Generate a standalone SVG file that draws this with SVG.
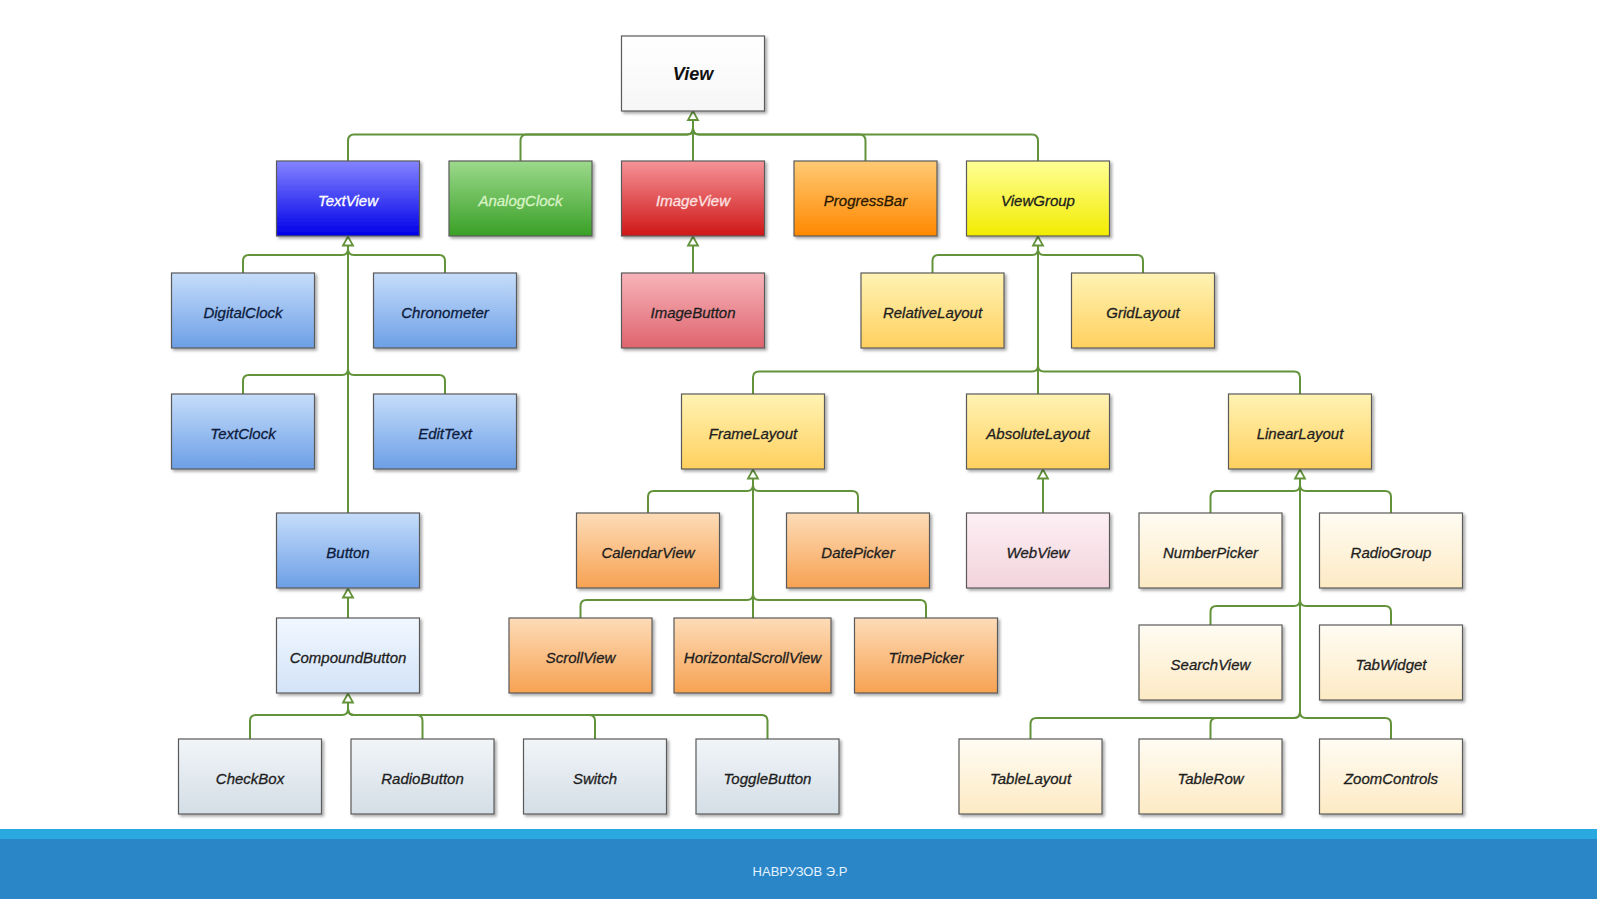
<svg xmlns="http://www.w3.org/2000/svg" width="1600" height="899" viewBox="0 0 1600 899">
<defs>
<style>
.box{stroke:#5a5a5a;stroke-width:1.2;filter:url(#sh)}
.lbl{font-family:"Liberation Sans",Arial,sans-serif;font-style:italic;font-size:15px;text-anchor:middle;fill:#1e1e1e;stroke:#1e1e1e;stroke-width:0.3}
.dk{fill:#0d1b3d;stroke:#0d1b3d}
.wt{fill:#ffffff;stroke:#ffffff}
.con{fill:none;stroke:#62933a;stroke-width:2}
.arr{fill:#ffffff;stroke:#62933a;stroke-width:1.8;stroke-linejoin:miter}
.foot{font-family:"Liberation Sans",Arial,sans-serif;font-size:13px;text-anchor:middle;fill:#e4f3ff}
</style>
<filter id="sh" x="-10%" y="-10%" width="125%" height="130%">
<feDropShadow dx="2" dy="2" stdDeviation="1.5" flood-color="#000" flood-opacity="0.35"/>
</filter>
<linearGradient id="g-view" x1="0" y1="0" x2="0" y2="1"><stop offset="0" stop-color="#ffffff"/><stop offset="1" stop-color="#f6f6f6"/></linearGradient>
<linearGradient id="g-tv" x1="0" y1="0" x2="0" y2="1"><stop offset="0" stop-color="#8484ff"/><stop offset="1" stop-color="#0000e8"/></linearGradient>
<linearGradient id="g-ac" x1="0" y1="0" x2="0" y2="1"><stop offset="0" stop-color="#9cd98c"/><stop offset="1" stop-color="#39a026"/></linearGradient>
<linearGradient id="g-iv" x1="0" y1="0" x2="0" y2="1"><stop offset="0" stop-color="#f59498"/><stop offset="1" stop-color="#cf1616"/></linearGradient>
<linearGradient id="g-pb" x1="0" y1="0" x2="0" y2="1"><stop offset="0" stop-color="#ffca74"/><stop offset="1" stop-color="#ff8800"/></linearGradient>
<linearGradient id="g-vg" x1="0" y1="0" x2="0" y2="1"><stop offset="0" stop-color="#ffff96"/><stop offset="1" stop-color="#f2ec00"/></linearGradient>
<linearGradient id="g-lb" x1="0" y1="0" x2="0" y2="1"><stop offset="0" stop-color="#c6ddfa"/><stop offset="1" stop-color="#6c9fe6"/></linearGradient>
<linearGradient id="g-ib" x1="0" y1="0" x2="0" y2="1"><stop offset="0" stop-color="#f7b4ba"/><stop offset="1" stop-color="#df646e"/></linearGradient>
<linearGradient id="g-ly" x1="0" y1="0" x2="0" y2="1"><stop offset="0" stop-color="#fff3b4"/><stop offset="1" stop-color="#ffd05e"/></linearGradient>
<linearGradient id="g-or" x1="0" y1="0" x2="0" y2="1"><stop offset="0" stop-color="#fddcb8"/><stop offset="1" stop-color="#f7a252"/></linearGradient>
<linearGradient id="g-wv" x1="0" y1="0" x2="0" y2="1"><stop offset="0" stop-color="#fcf0f4"/><stop offset="1" stop-color="#f3d3dc"/></linearGradient>
<linearGradient id="g-cr" x1="0" y1="0" x2="0" y2="1"><stop offset="0" stop-color="#fffcf3"/><stop offset="1" stop-color="#fdeac4"/></linearGradient>
<linearGradient id="g-cb" x1="0" y1="0" x2="0" y2="1"><stop offset="0" stop-color="#f1f7fe"/><stop offset="1" stop-color="#d3e3f8"/></linearGradient>
<linearGradient id="g-gr" x1="0" y1="0" x2="0" y2="1"><stop offset="0" stop-color="#f1f5f8"/><stop offset="1" stop-color="#d4dee6"/></linearGradient>
<path id="arrow" d="M0,0 L-5,9 L5,9 Z"/>
</defs>

<rect x="0" y="0" width="1600" height="899" fill="#ffffff"/>

<g id="connectors">
<path class="con" d="M693,120 V161"/>
<path class="con" d="M693,128 Q693,134.5 687,134.5 H354 Q348,134.5 348,141 V161"/>
<path class="con" d="M693,128 Q693,134.5 687,134.5 H526.5 Q520.5,134.5 520.5,141 V161"/>
<path class="con" d="M693,128 Q693,134.5 699,134.5 H1032 Q1038,134.5 1038,141 V161"/>
<path class="con" d="M693,128 Q693,134.5 699,134.5 H859.5 Q865.5,134.5 865.5,141 V161"/>
<use href="#arrow" class="arr" x="693" y="111"/>
<path class="con" d="M348,245 V513"/>
<path class="con" d="M348,249 Q348,255 342,255 H249 Q243,255 243,261 V273"/>
<path class="con" d="M348,249 Q348,255 354,255 H439 Q445,255 445,261 V273"/>
<path class="con" d="M348,369 Q348,375 342,375 H249 Q243,375 243,381 V394"/>
<path class="con" d="M348,369 Q348,375 354,375 H439 Q445,375 445,381 V394"/>
<use href="#arrow" class="arr" x="348" y="236.5"/>
<path class="con" d="M693,245 V273"/>
<use href="#arrow" class="arr" x="693" y="236.5"/>
<path class="con" d="M1038,245 V394"/>
<path class="con" d="M1038,249 Q1038,255 1032,255 H938.5 Q932.5,255 932.5,261 V273"/>
<path class="con" d="M1038,249 Q1038,255 1044,255 H1137 Q1143,255 1143,261 V273"/>
<path class="con" d="M1038,365.5 Q1038,371.5 1032,371.5 H759 Q753,371.5 753,377.5 V394"/>
<path class="con" d="M1038,365.5 Q1038,371.5 1044,371.5 H1294 Q1300,371.5 1300,377.5 V394"/>
<use href="#arrow" class="arr" x="1038" y="236.5"/>
<path class="con" d="M753,478 V618"/>
<path class="con" d="M753,485 Q753,491 747,491 H654 Q648,491 648,497 V513"/>
<path class="con" d="M753,485 Q753,491 759,491 H852 Q858,491 858,497 V513"/>
<path class="con" d="M753,594 Q753,600 747,600 H586.5 Q580.5,600 580.5,606 V618"/>
<path class="con" d="M753,594 Q753,600 759,600 H920 Q926,600 926,606 V618"/>
<use href="#arrow" class="arr" x="753" y="469.5"/>
<path class="con" d="M1043,478 V513"/>
<use href="#arrow" class="arr" x="1043" y="469.5"/>
<path class="con" d="M1300,478 V712"/>
<path class="con" d="M1300,485 Q1300,491 1294,491 H1216.5 Q1210.5,491 1210.5,497 V513"/>
<path class="con" d="M1300,485 Q1300,491 1306,491 H1385 Q1391,491 1391,497 V513"/>
<path class="con" d="M1300,600 Q1300,606 1294,606 H1216.5 Q1210.5,606 1210.5,612 V625"/>
<path class="con" d="M1300,600 Q1300,606 1306,606 H1385 Q1391,606 1391,612 V625"/>
<path class="con" d="M1300,712 Q1300,718 1294,718 H1036.5 Q1030.5,718 1030.5,724 V739"/>
<path class="con" d="M1300,712 Q1300,718 1294,718 H1216.5 Q1210.5,718 1210.5,724 V739"/>
<path class="con" d="M1300,712 Q1300,718 1306,718 H1385 Q1391,718 1391,724 V739"/>
<use href="#arrow" class="arr" x="1300" y="469.5"/>
<path class="con" d="M348,597 V618"/>
<use href="#arrow" class="arr" x="348" y="588.5"/>
<path class="con" d="M348,702 V709"/>
<path class="con" d="M348,709 Q348,715 342,715 H256 Q250,715 250,721 V739"/>
<path class="con" d="M348,709 Q348,715 354,715 H416.5 Q422.5,715 422.5,721 V739"/>
<path class="con" d="M348,709 Q348,715 354,715 H589 Q595,715 595,721 V739"/>
<path class="con" d="M348,709 Q348,715 354,715 H761.5 Q767.5,715 767.5,721 V739"/>
<use href="#arrow" class="arr" x="348" y="693.5"/>
</g>

<g id="n-View"><rect class="box" x="621.5" y="36" width="143" height="75" fill="url(#g-view)"/><text x="693" y="79.5" font-family="Liberation Sans, Arial, sans-serif" font-style="italic" font-weight="bold" font-size="18" text-anchor="middle" fill="#111">View</text></g>

<g id="n-TextView"><rect class="box" x="276.5" y="161" width="143" height="75" fill="url(#g-tv)"/><text class="lbl wt" x="348" y="205.5">TextView</text></g>
<g id="n-AnalogClock"><rect class="box" x="449" y="161" width="143" height="75" fill="url(#g-ac)"/><text class="lbl" x="520.5" y="205.5" style="fill:#d8f3c6;stroke:#d8f3c6">AnalogClock</text></g>
<g id="n-ImageView"><rect class="box" x="621.5" y="161" width="143" height="75" fill="url(#g-iv)"/><text class="lbl" x="693" y="205.5" style="fill:#fde2e2;stroke:#fde2e2">ImageView</text></g>
<g id="n-ProgressBar"><rect class="box" x="794" y="161" width="143" height="75" fill="url(#g-pb)"/><text class="lbl" x="865.5" y="205.5" style="fill:#2a1800;stroke:#2a1800">ProgressBar</text></g>
<g id="n-ViewGroup"><rect class="box" x="966.5" y="161" width="143" height="75" fill="url(#g-vg)"/><text class="lbl" x="1038" y="205.5">ViewGroup</text></g>

<g id="n-DigitalClock"><rect class="box" x="171.5" y="273" width="143" height="75" fill="url(#g-lb)"/><text class="lbl dk" x="243" y="317.5">DigitalClock</text></g>
<g id="n-Chronometer"><rect class="box" x="373.5" y="273" width="143" height="75" fill="url(#g-lb)"/><text class="lbl dk" x="445" y="317.5">Chronometer</text></g>
<g id="n-ImageButton"><rect class="box" x="621.5" y="273" width="143" height="75" fill="url(#g-ib)"/><text class="lbl" x="693" y="317.5">ImageButton</text></g>
<g id="n-RelativeLayout"><rect class="box" x="861" y="273" width="143" height="75" fill="url(#g-ly)"/><text class="lbl" x="932.5" y="317.5">RelativeLayout</text></g>
<g id="n-GridLayout"><rect class="box" x="1071.5" y="273" width="143" height="75" fill="url(#g-ly)"/><text class="lbl" x="1143" y="317.5">GridLayout</text></g>

<g id="n-TextClock"><rect class="box" x="171.5" y="394" width="143" height="75" fill="url(#g-lb)"/><text class="lbl dk" x="243" y="438.5">TextClock</text></g>
<g id="n-EditText"><rect class="box" x="373.5" y="394" width="143" height="75" fill="url(#g-lb)"/><text class="lbl dk" x="445" y="438.5">EditText</text></g>
<g id="n-FrameLayout"><rect class="box" x="681.5" y="394" width="143" height="75" fill="url(#g-ly)"/><text class="lbl" x="753" y="438.5">FrameLayout</text></g>
<g id="n-AbsoluteLayout"><rect class="box" x="966.5" y="394" width="143" height="75" fill="url(#g-ly)"/><text class="lbl" x="1038" y="438.5">AbsoluteLayout</text></g>
<g id="n-LinearLayout"><rect class="box" x="1228.5" y="394" width="143" height="75" fill="url(#g-ly)"/><text class="lbl" x="1300" y="438.5">LinearLayout</text></g>

<g id="n-Button"><rect class="box" x="276.5" y="513" width="143" height="75" fill="url(#g-lb)"/><text class="lbl dk" x="348" y="557.5">Button</text></g>
<g id="n-CalendarView"><rect class="box" x="576.5" y="513" width="143" height="75" fill="url(#g-or)"/><text class="lbl" x="648" y="557.5">CalendarView</text></g>
<g id="n-DatePicker"><rect class="box" x="786.5" y="513" width="143" height="75" fill="url(#g-or)"/><text class="lbl" x="858" y="557.5">DatePicker</text></g>
<g id="n-WebView"><rect class="box" x="966.5" y="513" width="143" height="75" fill="url(#g-wv)"/><text class="lbl" x="1038" y="557.5">WebView</text></g>
<g id="n-NumberPicker"><rect class="box" x="1139" y="513" width="143" height="75" fill="url(#g-cr)"/><text class="lbl" x="1210.5" y="557.5">NumberPicker</text></g>
<g id="n-RadioGroup"><rect class="box" x="1319.5" y="513" width="143" height="75" fill="url(#g-cr)"/><text class="lbl" x="1391" y="557.5">RadioGroup</text></g>

<g id="n-CompoundButton"><rect class="box" x="276.5" y="618" width="143" height="75" fill="url(#g-cb)"/><text class="lbl" x="348" y="662.5">CompoundButton</text></g>
<g id="n-ScrollView"><rect class="box" x="509" y="618" width="143" height="75" fill="url(#g-or)"/><text class="lbl" x="580.5" y="662.5">ScrollView</text></g>
<g id="n-HorizontalScrollView"><rect class="box" x="674" y="618" width="157" height="75" fill="url(#g-or)"/><text class="lbl" x="752.5" y="662.5">HorizontalScrollView</text></g>
<g id="n-TimePicker"><rect class="box" x="854.5" y="618" width="143" height="75" fill="url(#g-or)"/><text class="lbl" x="926" y="662.5">TimePicker</text></g>
<g id="n-SearchView"><rect class="box" x="1139" y="625" width="143" height="75" fill="url(#g-cr)"/><text class="lbl" x="1210.5" y="669.5">SearchView</text></g>
<g id="n-TabWidget"><rect class="box" x="1319.5" y="625" width="143" height="75" fill="url(#g-cr)"/><text class="lbl" x="1391" y="669.5">TabWidget</text></g>

<g id="n-CheckBox"><rect class="box" x="178.5" y="739" width="143" height="75" fill="url(#g-gr)"/><text class="lbl" x="250" y="783.5">CheckBox</text></g>
<g id="n-RadioButton"><rect class="box" x="351" y="739" width="143" height="75" fill="url(#g-gr)"/><text class="lbl" x="422.5" y="783.5">RadioButton</text></g>
<g id="n-Switch"><rect class="box" x="523.5" y="739" width="143" height="75" fill="url(#g-gr)"/><text class="lbl" x="595" y="783.5">Switch</text></g>
<g id="n-ToggleButton"><rect class="box" x="696" y="739" width="143" height="75" fill="url(#g-gr)"/><text class="lbl" x="767.5" y="783.5">ToggleButton</text></g>
<g id="n-TableLayout"><rect class="box" x="959" y="739" width="143" height="75" fill="url(#g-cr)"/><text class="lbl" x="1030.5" y="783.5">TableLayout</text></g>
<g id="n-TableRow"><rect class="box" x="1139" y="739" width="143" height="75" fill="url(#g-cr)"/><text class="lbl" x="1210.5" y="783.5">TableRow</text></g>
<g id="n-ZoomControls"><rect class="box" x="1319.5" y="739" width="143" height="75" fill="url(#g-cr)"/><text class="lbl" x="1391" y="783.5">ZoomControls</text></g>

<g id="footer">
<rect x="0" y="829" width="1597" height="11" fill="#2aa8e0"/>
<rect x="0" y="839" width="1597" height="60" fill="#2a86c7"/>
<text class="foot" x="800" y="876">НАВРУЗОВ Э.Р</text>
</g>
</svg>
